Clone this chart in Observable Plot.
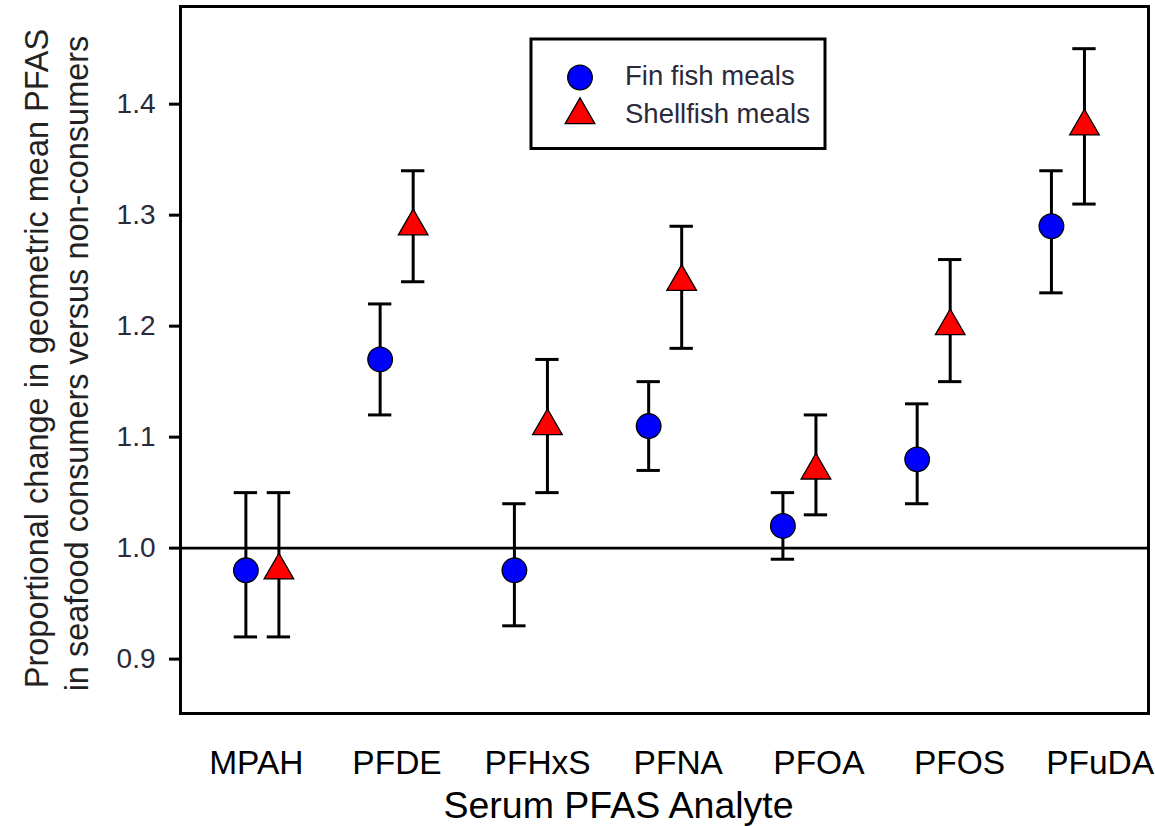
<!DOCTYPE html>
<html><head><meta charset="utf-8">
<script src="https://cdn.jsdelivr.net/npm/d3@7"></script>
<script src="https://cdn.jsdelivr.net/npm/@observablehq/plot@0.6"></script>
<style>
body{margin:0;background:#fff;}
#wrap{position:relative;width:1155px;height:826px;}
</style></head><body><div id="wrap"></div>
<script>
const analytes = ["MPAH","PFDE","PFHxS","PFNA","PFOA","PFOS","PFuDA"];
const finEst   = [0.98,1.17,0.98,1.11,1.02,1.08,1.29];
const finLo    = [0.92,1.12,0.93,1.07,0.99,1.04,1.23];
const finHi    = [1.05,1.22,1.04,1.15,1.05,1.13,1.34];
const shellEst = [0.98,1.29,1.11,1.24,1.07,1.20,1.38];
const shellLo  = [0.92,1.24,1.05,1.18,1.03,1.15,1.31];
const shellHi  = [1.05,1.34,1.17,1.29,1.12,1.26,1.45];
const seriesNames = ["Fin fish meals","Shellfish meals"];
const yTicks = [0.9,1.0,1.1,1.2,1.3,1.4];
const yTitle = ["Proportional change in geometric mean PFAS","in seafood consumers versus non-consumers"];
const xTitle = "Serum PFAS Analyte";

const OFFSET = 0.123, CAP = 0.087;
// category label placement (labels are spaced slightly wider than the point groups in the original)
const LAB_STEP = 1.0475, LAB_SHIFT = -0.045;
const finRows = analytes.map((a,i)=>({i, x:i-OFFSET, est:finEst[i], lo:finLo[i], hi:finHi[i]}));
const shellRows = analytes.map((a,i)=>({i, x:i+OFFSET, est:shellEst[i], lo:shellLo[i], hi:shellHi[i]}));
const rows = finRows.concat(shellRows);
const labelTicks = analytes.map((a,i)=>i*LAB_STEP+LAB_SHIFT);

const FONT = "'Liberation Sans', Arial, Helvetica, sans-serif";

const plot = Plot.plot({
  width:1155, height:826,
  marginLeft:180, marginRight:7, marginTop:6, marginBottom:113,
  style:{fontFamily:FONT, background:"#fff", color:"#000", overflow:"visible"},
  x:{domain:[-0.61,6.6]},
  y:{domain:[0.851,1.488]},
  marks:[
    Plot.axisY({ticks:yTicks, tickFormat:d3.format(".1f"), tickSize:11, tickPadding:14, fontSize:28, strokeWidth:3, label:null, fill:"#2a2a3a"}),
    Plot.axisX({ticks:labelTicks, tickFormat:v=>analytes[Math.round((v-LAB_SHIFT)/LAB_STEP)], tickSize:0, tickPadding:37, fontSize:33.5, label:null, fill:"#000"}),
    Plot.ruleY([1], {strokeWidth:2.6}),
    Plot.ruleX(rows, {x:"x", y1:"lo", y2:"hi", strokeWidth:3}),
    Plot.ruleY(rows, {y:"lo", x1:d=>d.x-CAP, x2:d=>d.x+CAP, strokeWidth:3}),
    Plot.ruleY(rows, {y:"hi", x1:d=>d.x-CAP, x2:d=>d.x+CAP, strokeWidth:3}),
    Plot.dot(finRows, {x:"x", y:"est", r:12.3, fill:"#0000ff", stroke:"#000", strokeWidth:1.3}),
    Plot.dot(shellRows, {x:"x", y:"est", symbol:"triangle", r:11, fill:"#ff0000", stroke:"#000", strokeWidth:1.3}),
    Plot.frame({strokeWidth:3}),
    Plot.text([xTitle], {frameAnchor:"bottom", lineAnchor:"bottom", textAnchor:"middle", dy:104, dx:-46, fontSize:37.5, fill:"#000"}),
    Plot.text([yTitle[0]], {frameAnchor:"left", lineAnchor:"bottom", textAnchor:"middle", rotate:-90, dx:-133, dy:-1.5, fontSize:32.5, fill:"#222"}),
    Plot.text([yTitle[1]], {frameAnchor:"left", lineAnchor:"bottom", textAnchor:"middle", rotate:-90, dx:-93, dy:3.5, fontSize:32.5, fill:"#222"})
  ]
});
document.getElementById("wrap").appendChild(plot);

// legend
const svg = d3.select(plot);
const lg = svg.append("g");
lg.append("rect").attr("x",531).attr("y",39).attr("width",294).attr("height",109.5)
  .attr("fill","#fff").attr("stroke","#000").attr("stroke-width",3);
lg.append("circle").attr("cx",580).attr("cy",77.5).attr("r",12.3)
  .attr("fill","#0000ff").attr("stroke","#000").attr("stroke-width",1.3);
lg.append("path").attr("d", d3.symbol(d3.symbolTriangle, Math.PI*11*11)())
  .attr("transform","translate(580,115)")
  .attr("fill","#ff0000").attr("stroke","#000").attr("stroke-width",1.3);
[85,123.3].forEach((yb,k)=>{
  lg.append("text").attr("x",625).attr("y",yb).text(seriesNames[k])
    .attr("text-anchor","start")
    .attr("font-size",27.5).attr("font-family",FONT).attr("fill","#2a2a3a");
});
</script></body></html>
